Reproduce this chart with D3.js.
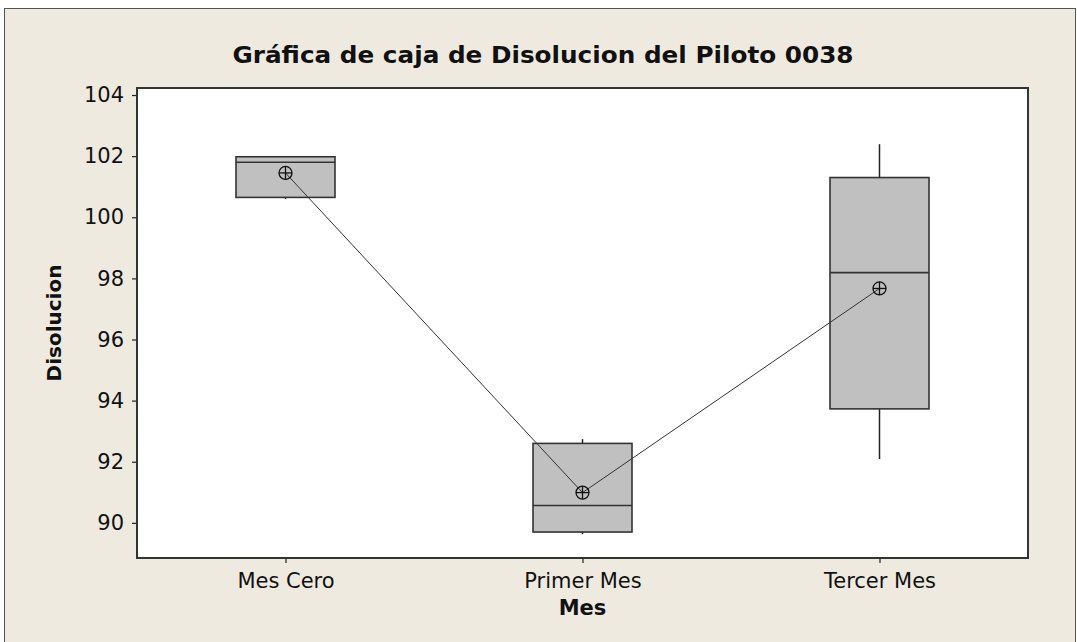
<!DOCTYPE html>
<html>
<head>
<meta charset="utf-8">
<script src="https://cdn.jsdelivr.net/npm/d3@7"></script>
<style>
  body { margin: 0; background: #fff; }
  svg { display: block; }
  text { font-family: "DejaVu Sans", Verdana, sans-serif; fill: #111; }
</style>
</head>
<body>
<div id="container"></div>
<script>
const categories = ["Mes Cero", "Primer Mes", "Tercer Mes"];
const mins    = [100.6, 89.63, 92.09];
const q1s     = [100.65, 89.7, 93.73];
const medians = [101.8, 90.57, 98.19];
const q3s     = [101.98, 92.6, 101.3];
const maxs    = [101.98, 92.74, 102.39];
const means   = [101.45, 90.99, 97.67];
const yTicks  = [90, 92, 94, 96, 98, 100, 102, 104];

const width = 1077;
const height = 642;
const plot = { left: 137, right: 1028, top: 88, bottom: 558 };

const data = categories.map((c, i) => ({
  cat: c, min: mins[i], q1: q1s[i], med: medians[i], q3: q3s[i], max: maxs[i], mean: means[i]
}));

const svg = d3.select("#container")
  .append("svg")
  .attr("width", width)
  .attr("height", height);

// outer panel
svg.append("rect")
  .attr("x", 0).attr("y", 0)
  .attr("width", width).attr("height", height)
  .attr("fill", "#fff");
svg.append("rect")
  .attr("x", 4.5).attr("y", 8.5)
  .attr("width", 1071).attr("height", 640)
  .attr("fill", "#efeae0")
  .attr("stroke", "#555")
  .attr("stroke-width", 1);

const xScale = d3.scalePoint()
  .domain(categories)
  .range([plot.left, plot.right])
  .padding(0.5);

const yScale = d3.scaleLinear()
  .domain([88.85, 104.23])
  .range([plot.bottom, plot.top]);

const boxW = xScale.step() / 3;

// plot area
svg.append("rect")
  .attr("x", plot.left).attr("y", plot.top)
  .attr("width", plot.right - plot.left)
  .attr("height", plot.bottom - plot.top)
  .attr("fill", "#fff");

const yAxis = d3.axisLeft(yScale).tickValues(yTicks).tickSize(5).tickPadding(8);
const xAxis = d3.axisBottom(xScale).tickSize(5).tickPadding(8);

const gy = svg.append("g")
  .attr("transform", `translate(${plot.left},0)`)
  .call(yAxis);
const gx = svg.append("g")
  .attr("transform", `translate(0,${plot.bottom})`)
  .call(xAxis);

[gx, gy].forEach(g => {
  g.select(".domain").remove();
  g.selectAll(".tick line").attr("stroke", "#222").attr("stroke-width", 1.2);
  g.selectAll(".tick text")
    .style("font-size", "21px")
    .style("font-family", "'DejaVu Sans', Verdana, sans-serif")
    .attr("fill", "#111");
});
gx.selectAll(".tick text").attr("dy", "0.8em");

// boxes
const boxes = svg.append("g")
  .selectAll("g")
  .data(data)
  .enter()
  .append("g");

boxes.append("line")
  .attr("x1", d => xScale(d.cat)).attr("x2", d => xScale(d.cat))
  .attr("y1", d => yScale(d.max)).attr("y2", d => yScale(d.q3))
  .attr("stroke", "#222").attr("stroke-width", 1.5);

boxes.append("line")
  .attr("x1", d => xScale(d.cat)).attr("x2", d => xScale(d.cat))
  .attr("y1", d => yScale(d.q1)).attr("y2", d => yScale(d.min))
  .attr("stroke", "#222").attr("stroke-width", 1.5);

boxes.append("rect")
  .attr("x", d => xScale(d.cat) - boxW / 2)
  .attr("width", boxW)
  .attr("y", d => yScale(d.q3))
  .attr("height", d => yScale(d.q1) - yScale(d.q3))
  .attr("fill", "#c0c0c0")
  .attr("stroke", "#333")
  .attr("stroke-width", 1.6);

boxes.append("line")
  .attr("x1", d => xScale(d.cat) - boxW / 2)
  .attr("x2", d => xScale(d.cat) + boxW / 2)
  .attr("y1", d => yScale(d.med)).attr("y2", d => yScale(d.med))
  .attr("stroke", "#333").attr("stroke-width", 1.6);

// mean connect line
const line = d3.line()
  .x(d => xScale(d.cat))
  .y(d => yScale(d.mean));

svg.append("path")
  .datum(data)
  .attr("d", line)
  .attr("fill", "none")
  .attr("stroke", "#333")
  .attr("stroke-width", 1);

// mean symbols (circle with cross)
const sym = svg.append("g")
  .selectAll("g")
  .data(data)
  .enter()
  .append("g")
  .attr("transform", d => `translate(${xScale(d.cat)},${yScale(d.mean)})`);

sym.append("circle")
  .attr("r", 6.5)
  .attr("fill", "none")
  .attr("stroke", "#111")
  .attr("stroke-width", 1.3);
sym.append("line")
  .attr("x1", -6.5).attr("x2", 6.5).attr("y1", 0).attr("y2", 0)
  .attr("stroke", "#111").attr("stroke-width", 1.3);
sym.append("line")
  .attr("x1", 0).attr("x2", 0).attr("y1", -6.5).attr("y2", 6.5)
  .attr("stroke", "#111").attr("stroke-width", 1.3);

// plot frame
svg.append("rect")
  .attr("x", plot.left).attr("y", plot.top)
  .attr("width", plot.right - plot.left)
  .attr("height", plot.bottom - plot.top)
  .attr("fill", "none")
  .attr("stroke", "#333")
  .attr("stroke-width", 2);

// titles
svg.append("text")
  .attr("x", 543).attr("y", 63)
  .attr("text-anchor", "middle")
  .attr("textLength", 621)
  .attr("lengthAdjust", "spacingAndGlyphs")
  .style("font-size", "23px")
  .style("font-weight", "bold")
  .text("Gráfica de caja de Disolucion del Piloto 0038");

svg.append("text")
  .attr("x", (plot.left + plot.right) / 2).attr("y", 615)
  .attr("text-anchor", "middle")
  .style("font-size", "21px")
  .style("font-weight", "bold")
  .text("Mes");

svg.append("text")
  .attr("transform", "translate(61,323) rotate(-90)")
  .attr("text-anchor", "middle")
  .style("font-size", "20px")
  .style("font-weight", "bold")
  .text("Disolucion");
</script>
</body>
</html>
